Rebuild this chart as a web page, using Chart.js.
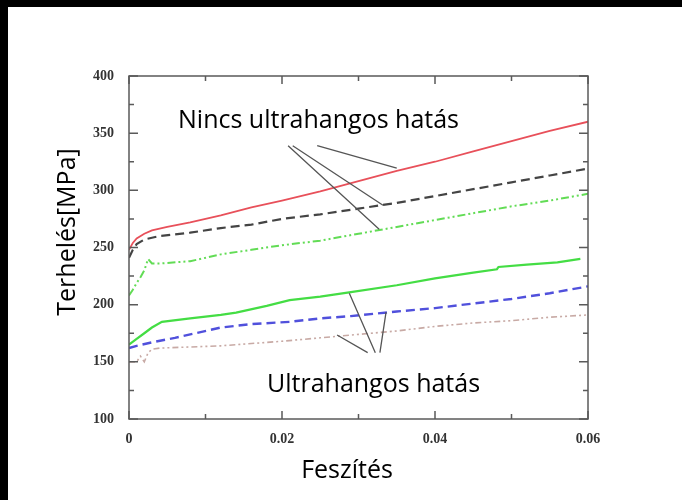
<!DOCTYPE html>
<html>
<head>
<meta charset="utf-8">
<script src="https://cdn.jsdelivr.net/npm/chart.js@4.4.1/dist/chart.umd.min.js"></script>
<style>
  html, body { margin: 0; padding: 0; background: #000; }
  #wrap { position: absolute; left: 8px; top: 7px; width: 674px; height: 493px; background: #fff; }
</style>
</head>
<body>
<div id="wrap"><canvas id="chart" width="674" height="493"></canvas></div>
<script>
// curves: strain (x) and load in MPa (y)
const redStrain = [0, 0.0005, 0.001, 0.002, 0.003, 0.005, 0.008, 0.012, 0.016, 0.02, 0.025, 0.03, 0.035, 0.04, 0.045, 0.05, 0.055, 0.06];
const redStress = [248, 254, 258, 262, 265, 268, 272, 278, 285, 291, 299, 308, 317, 325, 334, 343, 352, 360];

const blackStrain = [0, 0.0005, 0.001, 0.002, 0.004, 0.008, 0.012, 0.016, 0.02, 0.025, 0.03, 0.035, 0.04, 0.045, 0.05, 0.055, 0.06];
const blackStress = [241, 248, 253, 257, 260, 263, 267, 270, 275, 279, 284, 289, 295, 301, 307, 313, 319];

const greenDotStrain = [0, 0.0005, 0.001, 0.0015, 0.002, 0.0025, 0.003, 0.004, 0.008, 0.012, 0.016, 0.02, 0.025, 0.03, 0.035, 0.04, 0.045, 0.05, 0.055, 0.06];
const greenDotStress = [208, 213, 219, 224, 230, 240, 236, 236, 238, 244, 248, 252, 256, 262, 268, 274, 280, 286, 291, 297];

const greenStrain = [0, 0.001, 0.002, 0.003, 0.0043, 0.008, 0.012, 0.014, 0.018, 0.021, 0.025, 0.029, 0.035, 0.04, 0.045, 0.0481, 0.0483, 0.052, 0.056, 0.059];
const greenStress = [165, 170, 175, 180, 185, 188, 191, 193, 199, 204, 207, 211, 217, 223, 228, 231, 233, 235, 237, 240];

const blueStrain = [0, 0.001, 0.003, 0.006, 0.012, 0.016, 0.021, 0.025, 0.029, 0.035, 0.04, 0.045, 0.05, 0.055, 0.06];
const blueStress = [162, 164, 167, 171, 180, 183, 185, 188, 190, 194, 197, 201, 205, 210, 216];

const beigeStrain = [0, 0.001, 0.0015, 0.002, 0.0025, 0.003, 0.004, 0.008, 0.012, 0.016, 0.02, 0.025, 0.03, 0.035, 0.04, 0.045, 0.05, 0.055, 0.06];
const beigeStress = [150, 150, 155, 150, 158, 161, 162, 163, 164, 166, 168, 171, 174, 177, 181, 184, 186, 189, 191];

const xTicks = [0, 0.02, 0.04, 0.06];
const yTicks = [100, 150, 200, 250, 300, 350, 400];

const topLabel = "Nincs ultrahangos hatás";
const bottomLabel = "Ultrahangos hatás";
const xTitle = "Feszítés";
const yTitle = "Terhelés[MPa]";

// leader lines, [strain, MPa] pairs: from the label to a curve
const topLeaders = [
  [[0.0246, 339], [0.0350, 319.5]],
  [[0.0214, 339], [0.0332, 287]],
  [[0.0208, 339], [0.0327, 266]]
];
const bottomLeaders = [
  [[0.0288, 210], [0.0322, 158]],
  [[0.0336, 193.5], [0.0328, 158]],
  [[0.0272, 173.5], [0.0312, 158]]
];

function pts(xs, ys) {
  return xs.map((x, i) => ({ x: x, y: ys[i] }));
}

const framePlugin = {
  id: 'frame',
  afterDatasetsDraw(chart) {
    const ctx = chart.ctx;
    const a = chart.chartArea;
    const xs = chart.scales.x, ys = chart.scales.y;
    ctx.save();
    ctx.strokeStyle = '#5a5a5a';
    ctx.lineWidth = 1.5;
    ctx.strokeRect(a.left, a.top, a.right - a.left, a.bottom - a.top);
    ctx.beginPath();
    for (let v = 0; v <= 0.06 + 1e-9; v += 0.01) {
      const px = xs.getPixelForValue(v);
      const major = Math.round(v * 100) % 2 === 0;
      const len = major ? 8 : 5;
      ctx.moveTo(px, a.bottom); ctx.lineTo(px, a.bottom - len);
      ctx.moveTo(px, a.top); ctx.lineTo(px, a.top + len);
    }
    for (let v = 100; v <= 400; v += 25) {
      const py = ys.getPixelForValue(v);
      const len = v % 50 === 0 ? 9 : 5;
      ctx.moveTo(a.left, py); ctx.lineTo(a.left + len, py);
      ctx.moveTo(a.right, py); ctx.lineTo(a.right - len, py);
    }
    ctx.stroke();
    ctx.restore();
  },
  afterDraw(chart) {
    const ctx = chart.ctx;
    const xs = chart.scales.x, ys = chart.scales.y;
    ctx.save();
    // leader lines
    ctx.strokeStyle = '#555';
    ctx.lineWidth = 1.3;
    ctx.beginPath();
    topLeaders.concat(bottomLeaders).forEach(l => {
      ctx.moveTo(xs.getPixelForValue(l[0][0]), ys.getPixelForValue(l[0][1]));
      ctx.lineTo(xs.getPixelForValue(l[1][0]), ys.getPixelForValue(l[1][1]));
    });
    ctx.stroke();

    ctx.fillStyle = '#000';
    ctx.font = '25px "Open Sans", sans-serif';
    ctx.textBaseline = 'alphabetic';
    ctx.textAlign = 'left';
    ctx.fillText(topLabel, 170, 121);
    ctx.fillText(bottomLabel, 259, 385);

    // axis titles
    ctx.textAlign = 'center';
    ctx.fillText(xTitle, 339, 471);
    ctx.translate(67, 225);
    ctx.rotate(-Math.PI / 2);
    ctx.fillText(yTitle, 0, 0);
    ctx.restore();
  }
};

const tickFont = { family: '"Liberation Serif", serif', size: 14, weight: 'bold' };

new Chart(document.getElementById('chart'), {
  type: 'line',
  data: {
    datasets: [
      { data: pts(redStrain, redStress), borderColor: '#e8505a', borderWidth: 1.8 },
      { data: pts(blackStrain, blackStress), borderColor: '#444', borderWidth: 2.2, borderDash: [9, 5] },
      { data: pts(greenDotStrain, greenDotStress), borderColor: '#62dc55', borderWidth: 2, borderDash: [8, 3, 2, 3, 2, 3] },
      { data: pts(greenStrain, greenStress), borderColor: '#44dd44', borderWidth: 2.2 },
      { data: pts(blueStrain, blueStress), borderColor: '#5050dc', borderWidth: 2.4, borderDash: [9, 5] },
      { data: pts(beigeStrain, beigeStress), borderColor: '#c8aaa5', borderWidth: 1.6, borderDash: [6, 3, 2, 3, 2, 3] }
    ]
  },
  options: {
    responsive: false,
    animation: false,
    events: [],
    layout: { padding: { top: 69, right: 94, left: 0, bottom: 0 } },
    elements: { point: { radius: 0 }, line: { tension: 0, fill: false } },
    plugins: { legend: { display: false }, tooltip: { enabled: false } },
    scales: {
      x: {
        type: 'linear', min: 0, max: 0.06,
        afterBuildTicks: s => { s.ticks = xTicks.map(v => ({ value: v })); },
        afterFit: s => { s.height = 81; },
        ticks: { font: tickFont, color: '#333', padding: 4, callback: v => String(v) },
        grid: { display: false },
        border: { display: false }
      },
      y: {
        type: 'linear', min: 100, max: 400,
        afterBuildTicks: s => { s.ticks = yTicks.map(v => ({ value: v })); },
        afterFit: s => { s.width = 121; },
        ticks: { font: tickFont, color: '#333', padding: 7 },
        grid: { display: false },
        border: { display: false }
      }
    }
  },
  plugins: [framePlugin]
});
</script>
</body>
</html>
